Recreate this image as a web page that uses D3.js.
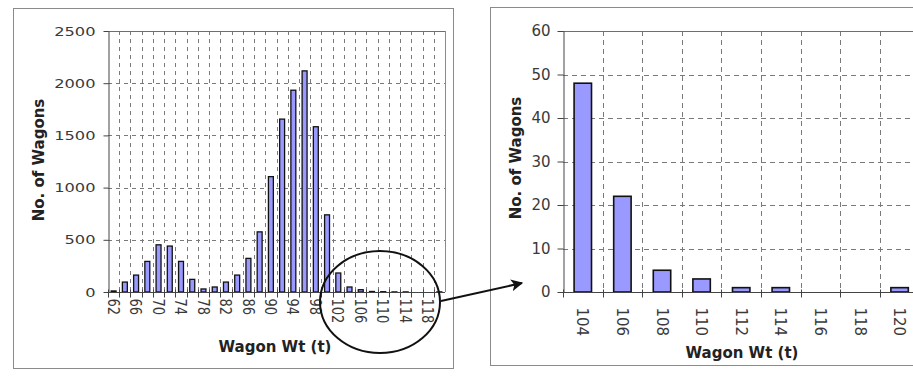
<!DOCTYPE html>
<html>
<head>
<meta charset="utf-8">
<script src="https://cdn.jsdelivr.net/npm/d3@7"></script>
<style>
  html, body { margin: 0; padding: 0; background: #fff; }
  svg { display: block; }
  text { font-family: "DejaVu Sans", Verdana, sans-serif; }
</style>
</head>
<body>
<svg id="chart" width="913" height="376"></svg>
<script>
// Wagon weight distribution (t), bins of 2 t
const weights = [62, 64, 66, 68, 70, 72, 74, 76, 78, 80, 82, 84, 86, 88, 90,
                 92, 94, 96, 98, 100, 102, 104, 106, 108, 110, 112, 114, 116, 118, 120];
const counts  = [10, 95, 162, 293, 452, 440, 293, 121, 29, 48, 95, 162, 322, 576, 1105,
                 1656, 1933, 2118, 1583, 739, 182, 48, 22, 5, 3, 1, 1, 0, 0, 1];

// Left panel axis ticks
const leftYTicks = [0, 500, 1000, 1500, 2000, 2500];
const leftXLabels = [62, 66, 70, 74, 78, 82, 86, 90, 94, 98, 102, 106, 110, 114, 118];

// Detail panel: heavy wagons only
const detailFrom = 104;
const rightYTicks = [0, 10, 20, 30, 40, 50, 60];

const xTitle = "Wagon Wt (t)";
const yTitle = "No. of Wagons";

const svg = d3.select("#chart");
const BAR_FILL = "#9999ff";
const GRID = "#7a7a7a";

// panel frames
svg.append("rect").attr("x", 13.5).attr("y", 8.5).attr("width", 440).attr("height", 360)
  .attr("fill", "none").attr("stroke", "#8a8a8a");
svg.append("rect").attr("x", 490.5).attr("y", 7.5).attr("width", 460).attr("height", 358)
  .attr("fill", "none").attr("stroke", "#8a8a8a");

function drawPanel(opt) {
  const data = opt.weights.map((w, i) => ({ w, c: opt.counts[i] }));
  const x = d3.scaleBand().domain(opt.weights).range([opt.x0, opt.x1]).padding(0);
  const y = d3.scaleLinear().domain([0, opt.yMax]).range([opt.yBottom, opt.yTop]);
  const g = svg.append("g");
  const step = x.step();

  // horizontal dashed gridlines
  g.append("g").selectAll("line")
    .data(opt.yTicks.filter(v => v > 0 && v < opt.yMax))
    .join("line")
    .attr("x1", opt.x0).attr("x2", opt.x1)
    .attr("y1", d => Math.round(y(d)) + 0.5).attr("y2", d => Math.round(y(d)) + 0.5)
    .attr("stroke", GRID).attr("stroke-dasharray", opt.dash);

  // vertical dashed gridlines at bin boundaries
  const bounds = opt.weights.slice(1).map(w => x(w));
  g.append("g").selectAll("line")
    .data(bounds)
    .join("line")
    .attr("x1", d => Math.round(d) + 0.5).attr("x2", d => Math.round(d) + 0.5)
    .attr("y1", opt.yTop).attr("y2", opt.yBottom)
    .attr("stroke", GRID).attr("stroke-dasharray", opt.dash);

  // plot-area top and right edges
  g.append("line").attr("x1", opt.x0).attr("x2", opt.x1)
    .attr("y1", opt.yTop + 0.5).attr("y2", opt.yTop + 0.5).attr("stroke", "#6e6e6e");
  g.append("line").attr("x1", opt.x1 + 0.5).attr("x2", opt.x1 + 0.5)
    .attr("y1", opt.yTop).attr("y2", opt.yBottom).attr("stroke", "#8a8a8a");

  // bars
  const bw = step * 0.44;
  g.append("g").selectAll("rect")
    .data(data.filter(d => d.c > 0))
    .join("rect")
    .attr("x", d => x(d.w) + (step - bw) / 2)
    .attr("y", d => y(d.c))
    .attr("width", bw)
    .attr("height", d => y(0) - y(d.c))
    .attr("fill", BAR_FILL)
    .attr("stroke", "#111")
    .attr("stroke-width", opt.barStroke);

  // y axis
  const yAxis = g.append("g")
    .attr("transform", `translate(${opt.x0 + 0.5},0)`)
    .call(d3.axisLeft(y).tickValues(opt.yTicks).tickFormat(d3.format("d"))
      .tickSize(opt.yTickSize).tickSizeOuter(0));
  yAxis.select(".domain").attr("stroke", "#444");
  yAxis.selectAll(".tick line").attr("stroke", "#444");
  yAxis.selectAll(".tick text")
    .attr("x", 0)
    .attr("transform", `translate(${-opt.yLabelGap},0) scale(${opt.stretch},1)`)
    .attr("font-size", opt.tickFont)
    .attr("fill", "#3a3a3a");

  // x axis line and boundary ticks
  const axisY = Math.round(y(0)) + 0.5;
  g.append("line").attr("x1", opt.x0).attr("x2", opt.x1)
    .attr("y1", axisY).attr("y2", axisY).attr("stroke", "#444");
  g.append("g").selectAll("line")
    .data(bounds.concat([opt.x0]))
    .join("line")
    .attr("x1", d => Math.round(d) + 0.5).attr("x2", d => Math.round(d) + 0.5)
    .attr("y1", axisY - 3).attr("y2", axisY + 5)
    .attr("stroke", "#444");

  // x tick labels, rotated
  const xAxis = g.append("g")
    .attr("transform", `translate(0,${axisY})`)
    .call(d3.axisBottom(x).tickValues(opt.xLabels).tickSize(0));
  xAxis.select(".domain").remove();
  xAxis.selectAll(".tick text")
    .attr("x", 0).attr("y", 0).attr("dy", "0.36em")
    .attr("text-anchor", "start")
    .attr("transform", `translate(0,${opt.xLabelGap}) scale(${opt.stretch},1) rotate(90)`)
    .attr("font-size", opt.tickFont)
    .attr("fill", "#3a3a3a");

  // titles
  g.append("text")
    .attr("transform", `translate(${opt.yTitleX},${opt.yTitleY}) rotate(-90)`)
    .attr("text-anchor", "middle").attr("dy", "0.35em")
    .attr("font-size", 15).attr("font-weight", "bold").attr("fill", "#222")
    .text(yTitle);
  g.append("text")
    .attr("x", opt.xTitleX).attr("y", opt.xTitleY)
    .attr("text-anchor", "middle")
    .attr("font-size", 15).attr("font-weight", "bold").attr("fill", "#222")
    .text(xTitle);

  return { x, y };
}

// full distribution
drawPanel({
  weights, counts,
  x0: 108, x1: 445, yTop: 31, yBottom: 292, yMax: 2500,
  yTicks: leftYTicks, xLabels: leftXLabels,
  dash: "4,4", barStroke: 1.3,
  yTickSize: 5, yLabelGap: 13, xLabelGap: 6,
  tickFont: 13, stretch: 1.25,
  yTitleX: 39, yTitleY: 160, xTitleX: 275, xTitleY: 352
});

// heavy-wagon detail
const detailIdx = weights.map((w, i) => i).filter(i => weights[i] >= detailFrom);
const detailWeights = detailIdx.map(i => weights[i]);
const detailCounts = detailIdx.map(i => counts[i]);
drawPanel({
  weights: detailWeights, counts: detailCounts,
  x0: 563, x1: 919.4, yTop: 31, yBottom: 292, yMax: 60,
  yTicks: rightYTicks, xLabels: detailWeights,
  dash: "5,4", barStroke: 1.6,
  yTickSize: 6, yLabelGap: 13, xLabelGap: 15,
  tickFont: 15, stretch: 1,
  yTitleX: 516, yTitleY: 158, xTitleX: 742, xTitleY: 358
});

// callout: circle around the tail and arrow to the detail panel
svg.append("defs").append("marker")
  .attr("id", "arrowhead")
  .attr("viewBox", "0 0 10 10").attr("refX", 9).attr("refY", 5)
  .attr("markerWidth", 6).attr("markerHeight", 6).attr("orient", "auto")
  .attr("markerUnits", "strokeWidth")
  .append("path").attr("d", "M0,0 L10,5 L0,10 L2.5,5 Z").attr("fill", "#111");

svg.append("ellipse")
  .attr("cx", 380).attr("cy", 302).attr("rx", 60).attr("ry", 51)
  .attr("fill", "none").attr("stroke", "#111").attr("stroke-width", 2);

svg.append("line")
  .attr("x1", 441).attr("y1", 301).attr("x2", 522).attr("y2", 283)
  .attr("stroke", "#111").attr("stroke-width", 2)
  .attr("marker-end", "url(#arrowhead)");
</script>
</body>
</html>
